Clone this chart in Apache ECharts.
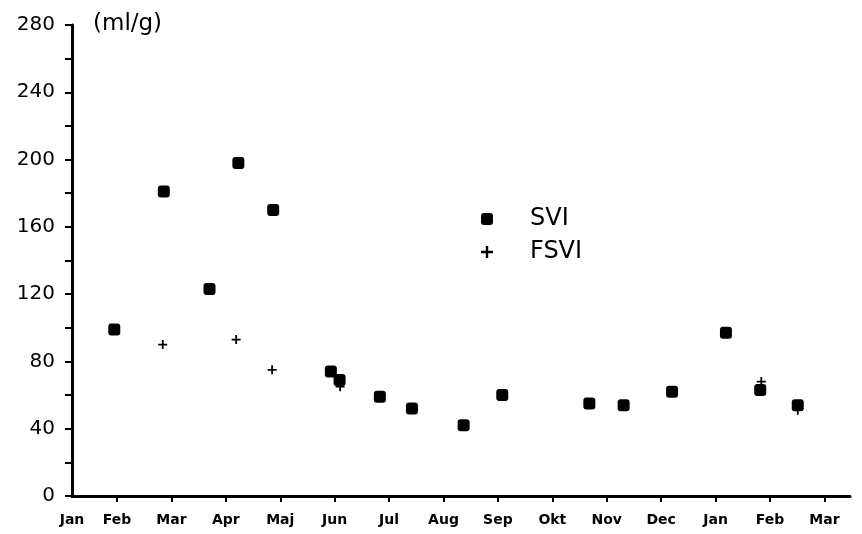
<!DOCTYPE html>
<html>
<head>
<meta charset="utf-8">
<script src="https://cdn.jsdelivr.net/npm/echarts@6/dist/echarts.min.js"></script>
<style>html,body{margin:0;padding:0;background:#fff}#c{width:862px;height:534px}</style>
</head>
<body>
<div id="c"></div>
<script>
// Month labels along the x axis (x values are in months, Jan = 0)
var monthLabels = ['Jan','Feb','Mar','Apr','Maj','Jun','Jul','Aug','Sep','Okt','Nov','Dec','Jan','Feb','Mar'];
var monthTickValues = [1,2,3,4,5,6,7,8,9,10,11,12,13,14];
var monthLabelValues = [0.173,1,2,3,4,5,6,7,8,9,10,11,12,13,14];
// SVI series (x in months, y in ml/g)
var sviX = [0.95, 1.86, 2.70, 3.23, 3.87, 4.93, 5.09, 5.83, 6.42, 7.37, 8.08, 9.68, 10.31, 11.20, 12.19, 12.82, 13.51];
var sviY = [99, 181, 123, 198, 170, 74, 69, 59, 52, 42, 60, 55, 54, 62, 97, 63, 54];
// FSVI series
var fsviX = [1.84, 3.19, 3.85, 5.10, 12.84, 13.51];
var fsviY = [90, 93, 75, 65, 68, 51];
var yTicks = [0, 40, 80, 120, 160, 200, 240, 280];

function pairs(xs, ys){ return xs.map(function(x,i){ return [x, ys[i]]; }); }

var font = "'DejaVu Sans', sans-serif";
var crossPath = 'path://M4,0H6V4H10V6H6V10H4V6H0V4H4Z';

var chart = echarts.init(document.getElementById('c'), null, {renderer:'canvas'});
chart.setOption({
  backgroundColor: '#fff',
  animation: false,
  title: {
    text: '(ml/g)', left: 88, top: 8,
    textStyle: {fontFamily: font, fontSize: 23, fontWeight: 'normal', color: '#000'}
  },
  legend: {
    orient: 'vertical', left: 476, top: 202, itemGap: 9,
    itemWidth: 12, itemHeight: 12, itemStyle: {borderWidth: 0, opacity: 1},
    textStyle: {fontFamily: font, fontSize: 24, color: '#000', padding: [0,0,0,32]},
    data: [{name: 'SVI', icon: 'roundRect'}, {name: 'FSVI', icon: crossPath}]
  },
  grid: {left: 72, right: 12, top: 25, bottom: 38, containLabel: false},
  xAxis: {
    type: 'value', min: 0.173, max: 14.47,
    axisLine: {show: true, lineStyle: {color: '#000', width: 3}},
    axisTick: {show: true, length: 6, customValues: monthTickValues, lineStyle: {color: '#000', width: 2}},
    axisLabel: {
      customValues: monthLabelValues, margin: 17,
      fontFamily: font, fontSize: 14, fontWeight: 'bold', color: '#000',
      formatter: function(v){ return monthLabels[Math.round(v)]; }
    },
    splitLine: {show: false}
  },
  yAxis: {
    type: 'value', min: 0, max: 280, interval: 20,
    axisLine: {show: true, lineStyle: {color: '#000', width: 3}},
    axisTick: {show: true, length: 7, lineStyle: {color: '#000', width: 2}},
    axisLabel: {
      margin: 17, fontFamily: font, fontSize: 20, color: '#000',
      formatter: function(v){ return yTicks.indexOf(v) >= 0 ? String(v) : ''; }
    },
    splitLine: {show: false}
  },
  series: [
    {name: 'SVI', type: 'scatter', symbol: 'roundRect', symbolSize: 12,
     itemStyle: {color: '#000', opacity: 1}, data: pairs(sviX, sviY), z: 3},
    {name: 'FSVI', type: 'scatter', symbol: crossPath, symbolSize: 9,
     itemStyle: {color: '#000', opacity: 1}, data: pairs(fsviX, fsviY), z: 2}
  ]
});
</script>
</body>
</html>
